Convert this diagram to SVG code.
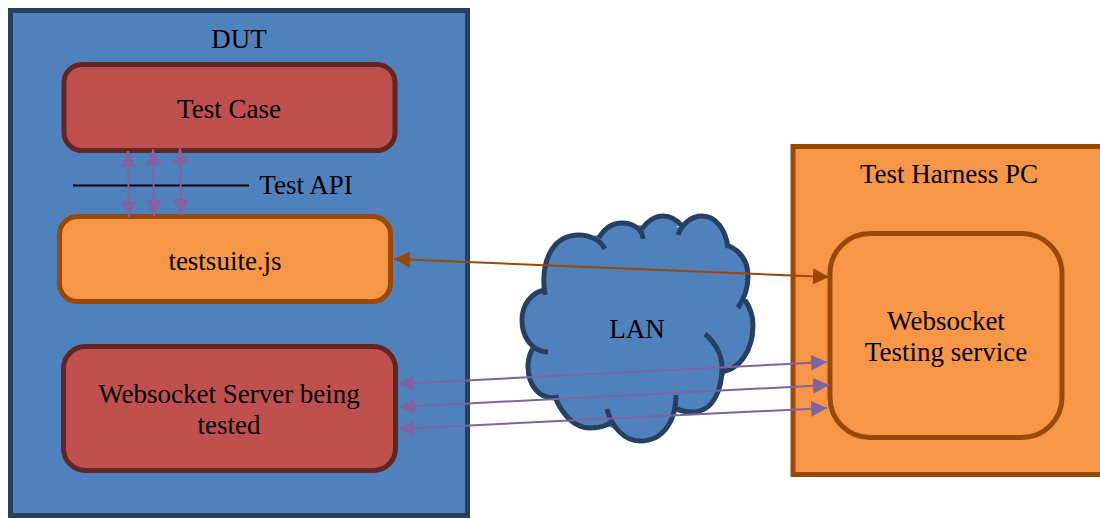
<svg xmlns="http://www.w3.org/2000/svg" width="1100" height="518" viewBox="0 0 1100 518">
<defs>
<style>
text{font-family:"Liberation Serif","Times New Roman",serif;font-size:27px;fill:#000;text-anchor:middle}
.blue{fill:#4f81bd;stroke:#254061;stroke-width:5}
.red{fill:#c0504d;stroke:#632523;stroke-width:5}
.orange{fill:#f79646;stroke:#984807;stroke-width:5}
.p{fill:none;stroke:#8064a2;stroke-width:2;marker-start:url(#ps);marker-end:url(#pe)}
.o{fill:none;stroke:#984807;stroke-width:2;marker-start:url(#os);marker-end:url(#oe)}
</style>
<marker id="pe" markerUnits="userSpaceOnUse" markerWidth="16" markerHeight="16" refX="16" refY="8" orient="auto"><path d="M0,0L16,8L0,16Z" fill="#8064a2"/></marker>
<marker id="ps" markerUnits="userSpaceOnUse" markerWidth="16" markerHeight="16" refX="0" refY="8" orient="auto"><path d="M16,0L0,8L16,16Z" fill="#8064a2"/></marker>
<marker id="oe" markerUnits="userSpaceOnUse" markerWidth="16" markerHeight="16" refX="16" refY="8" orient="auto"><path d="M0,0L16,8L0,16Z" fill="#984807"/></marker>
<marker id="os" markerUnits="userSpaceOnUse" markerWidth="16" markerHeight="16" refX="0" refY="8" orient="auto"><path d="M16,0L0,8L16,16Z" fill="#984807"/></marker>
</defs>
<g id="dut"><rect class="blue" x="10.500" y="10.500" width="457" height="505"/><text x="239" y="48">DUT</text></g>
<g id="test-case"><rect class="red" x="64" y="64.500" width="331" height="86" rx="18"/><text x="229" y="118">Test Case</text></g>
<g id="testsuite"><rect class="orange" x="59.500" y="216.500" width="331" height="85" rx="18"/><text x="225" y="269.500">testsuite.js</text></g>
<g id="ws-server"><rect class="red" x="63.500" y="346.500" width="332" height="124" rx="22"/><text x="229" y="403">Websocket Server being</text><text x="229" y="434">tested</text></g>
<g id="harness"><rect class="orange" x="793" y="146.500" width="312" height="328"/><text x="949" y="183">Test Harness PC</text></g>
<g id="service"><rect class="orange" x="830" y="233.500" width="232" height="204" rx="40"/><text x="946" y="330">Websocket</text><text x="946" y="361">Testing service</text></g>
<g id="lan">
<path d="M545,290L580,240L622,228L663,222L681,228L702,222L730,248L745,300L748,325L720,385L675,410L640,435L590,422L556,397L533,350L527,320Z" fill="#4f81bd"/>
<path class="blue" stroke-linecap="butt" d="M545,295C540,262 552,235 579,235C590,235 600,240 605,249M599,238C604,229 612,223 622,223C634,223 643,230 643,239M642,229C647,221 655,216 663,216C671,216 677,220 682,226M678,235C682,224 691,216 702,216C716,216 726,230 728,248M727,245C741,251 748,262 748,276C748,288 744,299 738,308M745,300C751,309 753,317 753,325C753,350 740,370 720,372M705,334C716,343 722,356 722,367C722,385 716,412 692,412C686,412 680,411 675,408M676,395C676,420 664,441 640,441C624,441 611,426 607,409M612,422C606,426 599,428 590,428C574,428 562,414 555,397M559,397C540,401 528,386 528,366C528,359 530,353 533,348M548,352C533,352 522,338 522,320C522,304 532,292 545,290"/>
<text x="637" y="338">LAN</text>
</g>
<g id="connectors">
<line x1="73" y1="185.500" x2="249" y2="185.500" stroke="#000" stroke-width="2"/>
<line class="p" x1="128" y1="151" x2="129" y2="217"/>
<line class="p" x1="153" y1="149" x2="154" y2="216"/>
<line class="p" x1="180" y1="148" x2="181" y2="215"/>
<line class="o" x1="394" y1="259" x2="829" y2="277"/>
<line class="p" x1="398" y1="384" x2="827" y2="362"/>
<line class="p" x1="399" y1="407" x2="829" y2="385"/>
<line class="p" x1="398" y1="429" x2="827" y2="408"/>
</g>
<text x="306" y="193.500">Test API</text>
</svg>
